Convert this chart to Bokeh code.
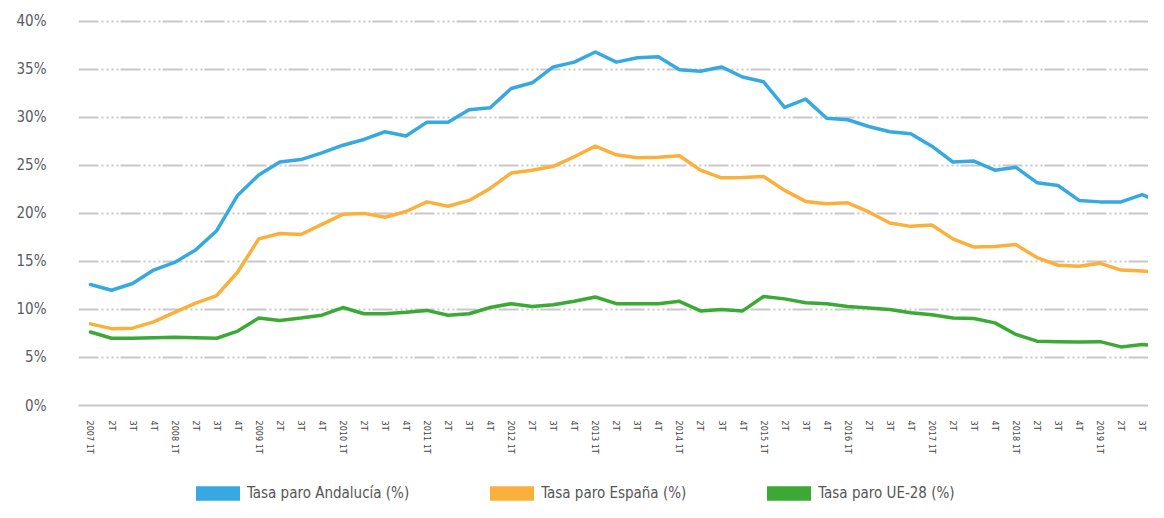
from bokeh.plotting import figure
from bokeh.layouts import column
from bokeh.models import Range1d, FixedTicker, Legend, LegendItem
from bokeh.embed import file_html
from bokeh.resources import INLINE

years = [2007, 2008, 2009, 2010, 2011, 2012, 2013, 2014, 2015, 2016, 2017, 2018, 2019]
quarter_names = ["1T", "2T", "3T", "4T"]
tick_labels = [(f"{y} {q}" if q == "1T" else q) for y in years for q in quarter_names]

andalucia = [12.6, 12.0, 12.7, 14.1, 14.9, 16.2, 18.2, 21.9, 24.0, 25.35,
             25.6, 26.3, 27.1, 27.7, 28.5, 28.05, 29.5, 29.5, 30.8, 31.0,
             33.0, 33.6, 35.25, 35.75, 36.8, 35.75, 36.2, 36.3, 34.95, 34.8,
             35.25, 34.2, 33.7, 31.05, 31.9, 29.9, 29.75, 29.05, 28.5, 28.3,
             27.0, 25.35, 25.45, 24.5, 24.8, 23.2, 22.9, 21.35, 21.2, 21.2,
             21.95, 21.0]
espana = [8.5, 8.0, 8.05, 8.7, 9.7, 10.65, 11.45, 13.9, 17.35, 17.9,
          17.8, 18.85, 19.9, 20.0, 19.6, 20.2, 21.2, 20.75, 21.35, 22.6,
          24.2, 24.5, 24.9, 25.9, 27.0, 26.1, 25.8, 25.85, 26.0, 24.5,
          23.7, 23.75, 23.85, 22.4, 21.25, 21.0, 21.1, 20.15, 19.0, 18.65,
          18.8, 17.35, 16.5, 16.55, 16.75, 15.4, 14.6, 14.5, 14.8, 14.1,
          14.0, 13.8]
ue28 = [7.65, 7.0, 7.0, 7.05, 7.1, 7.05, 7.0, 7.75, 9.1, 8.85,
        9.1, 9.4, 10.2, 9.55, 9.55, 9.7, 9.9, 9.4, 9.55, 10.2,
        10.6, 10.3, 10.5, 10.85, 11.3, 10.6, 10.6, 10.6, 10.85, 9.85,
        10.0, 9.85, 11.35, 11.1, 10.7, 10.6, 10.3, 10.15, 10.0, 9.65,
        9.45, 9.1, 9.05, 8.6, 7.4, 6.7, 6.65, 6.6, 6.65, 6.1,
        6.35, 6.2]

series_names = ["Tasa paro Andalucía (%)", "Tasa paro España (%)", "Tasa paro UE-28 (%)"]
series_colors = ["#36A9E1", "#FBB03B", "#3AAA35"]
y_ticks = [0, 5, 10, 15, 20, 25, 30, 35, 40]

FONT = "'Liberation Sans Narrow', 'DejaVu Sans Condensed', 'Roboto', sans-serif"
GRID = "#c8c8c8"

x = list(range(len(andalucia)))

p = figure(width=1148, height=470, output_backend="svg", toolbar_location=None,
           x_range=Range1d(-0.57, 50.3), y_range=Range1d(0, 40.5),
           min_border_left=78, min_border_right=0, min_border_top=16, min_border_bottom=65)
p.outline_line_color = None
p.background_fill_color = "white"
p.border_fill_color = "white"

# grid
p.xgrid.grid_line_color = None
p.ygrid.grid_line_color = GRID
p.ygrid.grid_line_width = 2
p.ygrid.grid_line_dash = "20 3 2 3 2 3 2 3 2 2"
p.ygrid.ticker = FixedTicker(ticks=y_ticks)

# y axis
p.yaxis.ticker = FixedTicker(ticks=y_ticks)
p.yaxis.major_label_overrides = {t: f"{t}%" for t in y_ticks}
p.yaxis.axis_line_color = None
p.yaxis.major_tick_line_color = None
p.yaxis.minor_tick_line_color = None
p.yaxis.major_tick_out = 0
p.yaxis.major_label_standoff = 32
p.yaxis.major_label_text_font = FONT
p.yaxis.major_label_text_font_size = "15px"
p.yaxis.major_label_text_color = "#5a5a64"

# x axis
p.xaxis.ticker = FixedTicker(ticks=x)
p.xaxis.major_label_overrides = {i: lab for i, lab in zip(x, tick_labels)}
p.xaxis.major_label_orientation = "vertical"
p.xaxis.axis_line_color = GRID
p.xaxis.axis_line_width = 2
p.xaxis.major_tick_line_color = None
p.xaxis.minor_tick_line_color = None
p.xaxis.major_tick_out = 0
p.xaxis.major_label_standoff = 15
p.xaxis.major_label_text_font = FONT
p.xaxis.major_label_text_font_size = "9px"
p.xaxis.major_label_text_color = "#444444"

for vals, col in zip([andalucia, espana, ue28], series_colors):
    p.line(x, vals, line_color=col, line_width=3.5, line_join="round", line_cap="round")

# legend strip (its frame is aligned with the main frame by the column layout)
pl = figure(width=1148, height=32, output_backend="svg", toolbar_location=None,
            x_range=Range1d(0, 1), y_range=Range1d(0, 1),
            x_axis_type=None, y_axis_type=None,
            min_border_left=78, min_border_right=0, min_border_top=0, min_border_bottom=0)
pl.outline_line_color = None
pl.xgrid.grid_line_color = None
pl.ygrid.grid_line_color = None

nan = float("nan")
items = []
for name, col in zip(series_names, series_colors):
    r = pl.rect(x=[nan], y=[nan], width=1, height=1, fill_color=col, line_color=None)
    items.append(LegendItem(label=name, renderers=[r]))

legend = Legend(items=items, orientation="horizontal", location=(112, 0),
                glyph_width=55, glyph_height=18, label_standoff=2, spacing=75,
                padding=0, margin=0, border_line_color=None, background_fill_alpha=0,
                label_text_font=FONT, label_text_font_size="15px",
                label_text_color="#555555", label_height=18)
pl.add_layout(legend)

layout = column(p, pl, spacing=0)
open("out.html", "w").write(file_html(layout, INLINE))
